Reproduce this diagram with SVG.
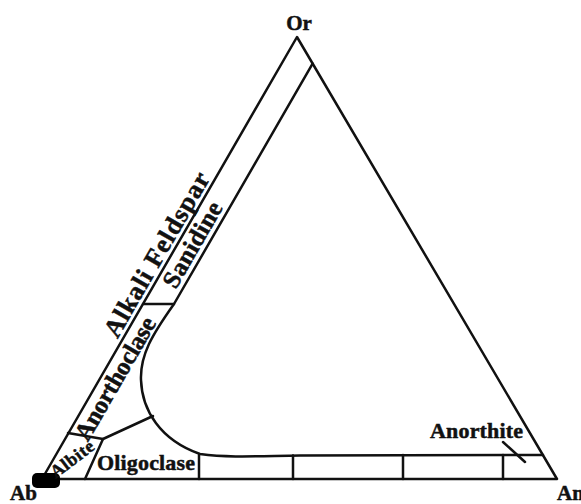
<svg xmlns="http://www.w3.org/2000/svg" width="581" height="504" viewBox="0 0 581 504">
<style>
.ln{fill:none;stroke:#111;stroke-width:2.5;stroke-linejoin:round;stroke-linecap:round}
.t{font-family:"Liberation Serif","Times New Roman",serif;font-weight:bold;fill:#111;stroke:#111;stroke-width:0.5}
</style>
<rect width="581" height="504" fill="#fff"/>
<g id="outline">
<path class="ln" d="M42,479 L297,37 L557,479 Z"/>
<rect x="32" y="473" width="28" height="15" rx="5" fill="#000"/>
</g>
<g id="boundaries">
<path class="ln" d="M312.6,63.7 L174,304 C152,335 140,355 141,380 C142,410 160,440 200,454 C230,458 260,456 300,455.5 L543,455"/>
<path class="ln" d="M143,304 L174,304"/>
<path class="ln" d="M68,433 L103,439 L153,416"/>
<path class="ln" d="M103,439 L85,479"/>
<path class="ln" d="M199,455 L199,479 M293,455.5 L293,479 M403,455 L403,479 M503,455 L503,479"/>
<path class="ln" d="M503,442 L525,462"/>
</g>
<g id="labels">
<text class="t" x="299" y="30" text-anchor="middle" font-size="21">Or</text>
<text class="t" x="10" y="500" font-size="21">Ab</text>
<text class="t" x="557" y="500" font-size="21">An</text>
<text class="t" x="97" y="470" textLength="98" font-size="22">Oligoclase</text>
<text class="t" x="430" y="438" textLength="93" font-size="22">Anorthite</text>
<text class="t" transform="translate(72,459) rotate(-37)" x="0" y="6" text-anchor="middle" textLength="50" font-size="18">Albite</text>
<text class="t" transform="translate(103.7,372) rotate(-60)" x="0" y="21.5" text-anchor="middle" textLength="138" font-size="25">Anorthoclase</text>
<text class="t" transform="translate(181,238) rotate(-60)" x="0" y="21.5" text-anchor="middle" textLength="95" font-size="25">Sanidine</text>
<text class="t" transform="translate(167.8,261) rotate(-60)" x="0" y="-4.5" text-anchor="middle" textLength="186" font-size="26">Alkali Feldspar</text>
</g>
</svg>
